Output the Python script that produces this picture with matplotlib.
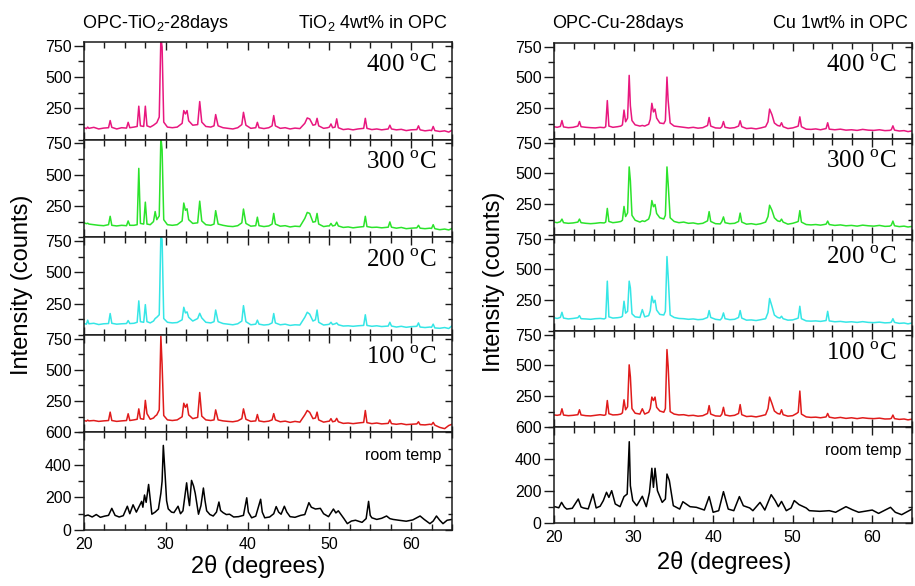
import matplotlib
matplotlib.use('Agg')
import matplotlib.pyplot as plt
from matplotlib.ticker import MultipleLocator

plt.rcParams['font.family'] = ['Liberation Sans', 'DejaVu Sans']
plt.rcParams['mathtext.fontset'] = 'custom'
plt.rcParams['mathtext.rm'] = 'Liberation Serif'
plt.rcParams['mathtext.sf'] = 'Liberation Sans'

# ---------------- data: OPC-TiO2 (left column) ----------------
tio2_two_theta = [
    20.0, 20.3, 20.45, 20.6, 21.2, 21.8, 22.4, 23.0, 23.2, 23.4,
    24.0, 24.6, 25.2, 25.4, 25.6, 26.1, 26.5, 26.7, 26.9, 27.3,
    27.5, 27.7, 28.1, 28.5, 28.7, 28.9, 29.2, 29.4, 29.55, 29.75,
    30.2, 30.8, 31.4, 32.0, 32.2, 32.4, 32.6, 32.8, 33.3, 33.9,
    34.15, 34.4, 34.9, 35.5, 35.9, 36.1, 36.4, 37.0, 37.6, 38.2,
    38.8, 39.3, 39.5, 39.8, 40.4, 41.0, 41.2, 41.4, 42.0, 42.6,
    43.0, 43.2, 43.4, 44.0, 44.6, 45.2, 45.8, 46.4, 47.0, 47.3,
    47.6, 48.0, 48.3, 48.5, 48.7, 49.3, 49.8, 50.0, 50.2, 50.4,
    50.7, 50.9, 51.1, 51.7, 52.3, 52.9, 53.5, 54.2, 54.4, 54.6,
    55.2, 55.8, 56.4, 57.2, 57.4, 57.6, 58.2, 58.8, 59.4, 60.0,
    60.7, 60.9, 61.1, 61.7, 62.3, 62.5, 62.7, 62.9, 63.5, 64.1,
    64.6, 65.0]

tio2_400C = [
    95, 88, 100, 90, 98, 85, 92, 95, 152, 98,
    85, 95, 92, 138, 95, 100, 105, 267, 110, 105,
    267, 110, 100, 115, 125, 135, 180, 820, 740, 140,
    100, 95, 100, 130, 232, 205, 232, 150, 115, 120,
    304, 140, 105, 100, 110, 200, 110, 95, 90, 85,
    95, 120, 218, 115, 90, 95, 138, 95, 88, 95,
    110, 192, 110, 90, 95, 85, 92, 88, 130, 173,
    165, 115, 120, 170, 110, 90, 95, 100, 125, 95,
    100, 166, 95, 80, 85, 78, 85, 90, 170, 90,
    80, 85, 78, 85, 115, 85, 78, 82, 72, 78,
    80, 110, 78, 70, 75, 72, 105, 72, 65, 70,
    60, 75]

tio2_300C = [
    115, 108, 112, 105, 100, 95, 92, 100, 167, 95,
    90, 95, 92, 130, 95, 95, 100, 550, 110, 105,
    280, 105, 100, 125, 205, 140, 170, 800, 700, 140,
    100, 95, 100, 130, 273, 215, 227, 140, 110, 115,
    288, 130, 100, 95, 105, 212, 105, 95, 88, 85,
    92, 115, 225, 110, 88, 92, 160, 92, 85, 90,
    105, 190, 105, 88, 92, 82, 88, 85, 150, 198,
    190, 120, 125, 190, 105, 85, 90, 90, 110, 90,
    95, 120, 90, 78, 82, 75, 80, 85, 167, 85,
    78, 80, 75, 80, 122, 80, 72, 78, 68, 72,
    75, 95, 72, 68, 72, 70, 100, 68, 60, 65,
    58, 70]

tio2_200C = [
    90, 85, 117, 88, 92, 82, 88, 90, 170, 92,
    85, 88, 90, 114, 90, 92, 100, 271, 105, 100,
    241, 105, 95, 110, 130, 140, 160, 800, 760, 130,
    100, 95, 98, 120, 220, 175, 183, 140, 110, 130,
    172, 135, 100, 95, 105, 198, 105, 90, 85, 80,
    88, 110, 233, 105, 80, 85, 117, 85, 78, 82,
    95, 170, 95, 80, 85, 75, 80, 78, 140, 180,
    165, 110, 120, 198, 100, 78, 82, 85, 100, 82,
    88, 95, 80, 70, 72, 68, 72, 75, 160, 75,
    68, 72, 66, 70, 100, 70, 62, 68, 60, 65,
    68, 95, 62, 58, 62, 60, 85, 55, 52, 58,
    50, 72]

tio2_100C = [
    95, 90, 98, 92, 95, 88, 92, 95, 162, 95,
    88, 92, 95, 149, 95, 100, 105, 188, 110, 105,
    256, 150, 105, 115, 130, 140, 180, 770, 542, 135,
    100, 95, 100, 125, 233, 200, 226, 140, 110, 120,
    319, 130, 100, 95, 100, 180, 100, 92, 88, 85,
    92, 110, 188, 105, 88, 92, 143, 92, 85, 90,
    100, 150, 100, 85, 90, 80, 88, 82, 140, 175,
    160, 110, 115, 162, 100, 82, 88, 90, 110, 85,
    90, 112, 85, 72, 75, 70, 75, 80, 175, 78,
    70, 75, 68, 72, 100, 70, 65, 70, 62, 65,
    68, 85, 62, 60, 65, 62, 80, 58, 40, 30,
    55, 65]

tio2_rt_two_theta = [
    20.0, 20.5, 21.0, 21.5, 22.0, 22.5, 23.0, 23.4, 23.8, 24.3,
    24.8, 25.3, 25.6, 26.0, 26.4, 27.05, 27.2, 27.4, 27.6, 27.9,
    28.3, 28.7, 29.1, 29.4, 29.55, 29.7, 29.9, 30.1, 30.3, 30.7,
    31.0, 31.5, 31.8, 32.1, 32.55, 32.75, 32.9, 33.15, 33.4, 33.6,
    34.0, 34.3, 34.6, 34.8, 35.0, 35.4, 35.8, 36.2, 36.5, 36.7,
    37.0, 37.4, 37.8, 38.3, 38.9, 39.5, 39.9, 40.1, 40.5, 41.0,
    41.6, 41.8, 42.1, 42.7, 43.2, 43.5, 43.8, 44.1, 44.5, 44.8,
    45.2, 45.8, 46.5, 47.0, 47.5, 47.8, 48.3, 48.9, 49.3, 49.9,
    50.5, 50.8, 51.1, 51.5, 51.8, 52.2, 52.7, 53.2, 54.0, 54.5,
    54.8, 55.0, 55.2, 55.8, 56.4, 57.0, 57.4, 57.8, 58.5, 59.4,
    60.2, 61.1, 61.6, 62.3, 62.7, 63.1, 63.5, 63.9, 64.4, 65.0]

tio2_room = [
    85, 92, 80, 95, 78, 85, 90, 133, 90, 80,
    88, 146, 100, 155, 110, 176, 140, 215, 170, 280,
    97, 110, 129, 226, 300, 520, 355, 180, 130, 110,
    107, 146, 100, 118, 290, 200, 150, 305, 270, 226,
    97, 150, 258, 180, 118, 95, 86, 110, 172, 120,
    107, 95, 97, 80, 82, 90, 198, 110, 75, 85,
    189, 110, 75, 80, 100, 144, 110, 97, 146, 110,
    82, 78, 90, 95, 168, 140, 129, 133, 100, 82,
    129, 105, 118, 90, 69, 39, 55, 60, 47, 70,
    176, 90, 75, 65, 72, 86, 70, 65, 60, 54,
    62, 86, 65, 39, 55, 86, 60, 39, 60, 65]

# ---------------- data: OPC-Cu (right column) ----------------
cu_two_theta = [
    20.0, 20.4, 20.8, 21.0, 21.2, 21.8, 22.4, 23.0, 23.2, 23.4,
    24.0, 24.6, 25.2, 25.8, 26.3, 26.5, 26.7, 26.9, 27.4, 28.0,
    28.4, 28.6, 28.8, 29.0, 29.25, 29.45, 29.6, 29.8, 30.2, 30.8,
    31.1, 31.4, 31.9, 32.1, 32.3, 32.5, 32.7, 32.9, 33.3, 33.8,
    34.0, 34.2, 34.35, 34.6, 35.1, 35.7, 36.3, 36.9, 37.5, 38.1,
    38.7, 39.3, 39.5, 39.7, 40.3, 40.9, 41.1, 41.3, 41.5, 42.1,
    42.7, 43.2, 43.4, 43.6, 44.2, 44.8, 45.4, 46.0, 46.6, 46.9,
    47.1, 47.4, 47.7, 48.1, 48.4, 48.6, 48.8, 49.4, 50.0, 50.5,
    50.7, 50.9, 51.1, 51.7, 52.3, 52.9, 53.5, 54.2, 54.4, 54.6,
    55.3, 56.0, 56.7, 57.4, 58.1, 58.8, 59.5, 60.2, 60.9, 61.6,
    62.2, 62.4, 62.6, 62.8, 63.4, 64.0, 64.5, 65.0]

cu_400C = [
    100, 95, 102, 150, 98, 92, 95, 105, 142, 100,
    95, 92, 90, 95, 92, 100, 312, 105, 95, 100,
    105, 115, 235, 140, 170, 517, 270, 150, 115, 105,
    110, 105, 120, 160, 290, 220, 243, 170, 130, 125,
    150, 503, 312, 130, 105, 100, 95, 90, 95, 88,
    92, 110, 175, 105, 90, 88, 100, 142, 95, 88,
    92, 105, 148, 100, 85, 88, 82, 90, 100, 140,
    243, 197, 130, 110, 105, 132, 100, 85, 90, 100,
    105, 180, 100, 80, 78, 82, 75, 85, 132, 80,
    75, 80, 72, 75, 70, 78, 72, 70, 75, 68,
    70, 75, 107, 72, 65, 68, 60, 66]

cu_300C = [
    105, 100, 108, 129, 100, 95, 98, 105, 129, 100,
    95, 92, 95, 100, 98, 105, 216, 110, 100, 105,
    110, 120, 232, 150, 180, 553, 442, 160, 120, 105,
    115, 110, 130, 170, 280, 230, 248, 175, 140, 130,
    160, 553, 416, 140, 110, 100, 105, 95, 98, 90,
    95, 115, 190, 110, 92, 90, 110, 147, 100, 92,
    95, 110, 178, 105, 88, 92, 85, 92, 105, 150,
    242, 200, 140, 115, 110, 129, 105, 88, 95, 105,
    110, 198, 105, 85, 82, 85, 80, 88, 113, 85,
    78, 82, 75, 78, 72, 80, 75, 72, 78, 70,
    72, 80, 113, 75, 68, 72, 65, 70]

cu_200C = [
    108, 102, 110, 152, 105, 98, 102, 108, 125, 100,
    98, 95, 100, 102, 98, 105, 405, 115, 105, 108,
    112, 120, 242, 145, 160, 405, 350, 140, 115, 110,
    174, 115, 125, 165, 283, 230, 250, 170, 135, 130,
    160, 605, 446, 130, 110, 102, 100, 95, 98, 92,
    95, 110, 166, 110, 95, 90, 105, 147, 100, 92,
    95, 110, 166, 105, 88, 90, 85, 92, 100, 150,
    264, 200, 130, 110, 105, 120, 100, 88, 90, 100,
    105, 201, 100, 82, 80, 82, 78, 85, 160, 82,
    75, 78, 72, 75, 70, 76, 70, 68, 72, 66,
    68, 72, 100, 70, 62, 65, 58, 65]

cu_100C = [
    98, 95, 100, 148, 97, 92, 95, 100, 140, 98,
    92, 90, 95, 100, 95, 100, 215, 108, 98, 100,
    105, 115, 221, 140, 165, 505, 408, 150, 112, 105,
    148, 105, 120, 150, 243, 215, 243, 160, 130, 120,
    150, 629, 491, 125, 105, 98, 100, 92, 95, 88,
    92, 110, 174, 105, 90, 88, 105, 160, 98, 90,
    95, 110, 182, 100, 85, 88, 82, 90, 100, 150,
    243, 190, 130, 110, 105, 140, 100, 88, 92, 110,
    120, 292, 105, 82, 78, 80, 75, 82, 110, 80,
    72, 78, 70, 75, 68, 75, 70, 68, 72, 65,
    66, 70, 97, 68, 62, 65, 58, 64]

cu_rt_two_theta = [
    20.1, 20.6, 20.95, 21.3, 21.6, 22.3, 23.05, 23.4, 23.7, 24.3,
    24.9, 25.3, 25.8, 26.2, 26.6, 26.9, 27.25, 27.7, 28.3, 28.8,
    29.2, 29.46, 29.6, 29.9, 30.4, 31.1, 31.6, 32.0, 32.3, 32.5,
    32.7, 33.0, 33.6, 34.0, 34.2, 34.5, 35.0, 35.8, 36.2, 37.1,
    37.9, 38.9, 39.5, 40.0, 40.7, 41.3, 41.9, 42.6, 43.3, 43.8,
    44.6, 45.0, 45.9, 46.5, 47.3, 47.8, 48.2, 48.6, 49.2, 49.8,
    50.2, 50.8, 51.7, 52.1, 53.4, 54.6, 55.4, 56.7, 57.5, 58.3,
    60.0, 60.8, 62.3, 62.9, 63.7, 65.0]

cu_room = [
    102, 95, 129, 100, 87, 92, 150, 100, 94, 88,
    181, 94, 105, 140, 192, 160, 202, 119, 102, 165,
    181, 508, 233, 140, 108, 167, 102, 192, 342, 223,
    342, 202, 129, 150, 306, 265, 108, 87, 133, 102,
    98, 81, 165, 67, 77, 196, 87, 77, 165, 108,
    94, 77, 129, 81, 177, 140, 102, 135, 77, 94,
    140, 115, 94, 77, 73, 77, 67, 102, 83, 67,
    81, 60, 98, 67, 52, 87]

temp_labels = ['400', '300', '200', '100']
room_label = 'room temp'
series_colors = ['#e8177f', '#2be32b', '#35e6e6', '#e01b1b']
upper_ticks = [250, 500, 750]
room_ticks = [0, 200, 400, 600]
x_ticks = [20, 30, 40, 50, 60]

columns = [
    dict(x=tio2_two_theta, series=[tio2_400C, tio2_300C, tio2_200C, tio2_100C],
         rt_x=tio2_rt_two_theta, rt_y=tio2_room,
         left=84, right=452, top=42, bottom=530,
         title_l='OPC-TiO$_\\mathsf{2}$-28days', title_r='TiO$_\\mathsf{2}$ 4wt% in OPC',
         ylab_x=22, ylab_y=285, xlab_x=258, xlab_y=566),
    dict(x=cu_two_theta, series=[cu_400C, cu_300C, cu_200C, cu_100C],
         rt_x=cu_rt_two_theta, rt_y=cu_room,
         left=554, right=912, top=43, bottom=523,
         title_l='OPC-Cu-28days', title_r='Cu 1wt% in OPC',
         ylab_x=494, ylab_y=282, xlab_x=724, xlab_y=562),
]

W, H = 915, 586
fig = plt.figure(figsize=(W / 100, H / 100), dpi=100)
spine_col = '#1a1a1a'


def style(ax, yt, ymax, minor_step, show_x):
    ax.set_xlim(20, 65)
    ax.set_ylim(0, ymax)
    ax.set_xticks(x_ticks)
    ax.xaxis.set_minor_locator(MultipleLocator(2.5))
    ax.set_yticks(yt)
    ax.yaxis.set_minor_locator(MultipleLocator(minor_step))
    ax.tick_params(axis='x', which='both', direction='in', top=True, bottom=True,
                   labelbottom=show_x, labelsize=11.5, color=spine_col, width=1, pad=5)
    ax.tick_params(axis='x', which='major', length=6)
    ax.tick_params(axis='x', which='minor', length=4)
    ax.tick_params(axis='y', which='both', direction='out', left=True, right=False,
                   labelsize=11.5, color=spine_col, width=1, pad=2)
    ax.tick_params(axis='y', which='major', length=7)
    ax.tick_params(axis='y', which='minor', length=4)
    for s in ax.spines.values():
        s.set_linewidth(1.1)
        s.set_color(spine_col)
    tw = ax.twinx()
    tw.set_ylim(0, ymax)
    tw.set_yticks(yt)
    tw.yaxis.set_minor_locator(MultipleLocator(minor_step))
    tw.tick_params(axis='y', which='both', direction='in', labelright=False,
                   color=spine_col, width=1)
    tw.tick_params(axis='y', which='major', length=5)
    tw.tick_params(axis='y', which='minor', length=3)
    for s in tw.spines.values():
        s.set_visible(False)


for col in columns:
    x0 = col['left'] / W
    w = (col['right'] - col['left']) / W
    ph = (col['bottom'] - col['top']) / 5.0
    for i in range(5):
        top_px = col['top'] + i * ph
        ax = fig.add_axes([x0, 1 - (top_px + ph) / H, w, ph / H])
        if i < 4:
            ax.plot(col['x'], col['series'][i], color=series_colors[i], lw=1.1)
            style(ax, upper_ticks, 780, 125, False)
            ax.text(0.958, 0.76, temp_labels[i] + ' $^\\mathrm{o}$C', transform=ax.transAxes,
                    ha='right', va='center', fontsize=18, family='Liberation Serif')
        else:
            ax.plot(col['rt_x'], col['rt_y'], color='black', lw=1.1)
            style(ax, room_ticks, 600, 100, True)
            ax.text(0.97, 0.76, room_label, transform=ax.transAxes,
                    ha='right', va='center', fontsize=11.5)
    fig.text(col['left'] / W - 0.002, 1 - 23 / H, col['title_l'], ha='left', va='center', fontsize=13)
    fig.text(col['right'] / W - 0.004, 1 - 23 / H, col['title_r'], ha='right', va='center', fontsize=13)
    fig.text(col['ylab_x'] / W, 1 - col['ylab_y'] / H, 'Intensity (counts)', rotation=90,
             ha='center', va='center', fontsize=17)
    fig.text(col['xlab_x'] / W, 1 - col['xlab_y'] / H, '2θ (degrees)', ha='center', va='center',
             fontsize=17)

fig.savefig('out.png', dpi=100)
